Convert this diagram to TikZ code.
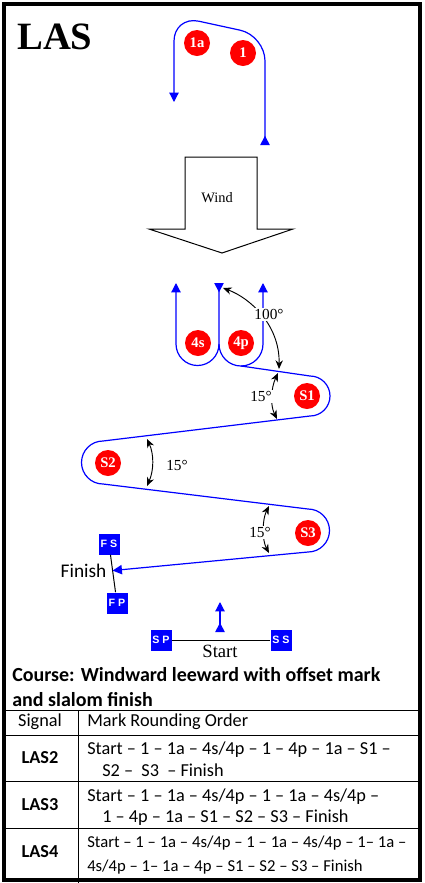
\documentclass[tikz,border=0pt]{standalone}
\usepackage{fontspec}
\setmainfont{Liberation Serif}
\newfontfamily\calibri{Carlito}
\newfontfamily\arialfont{Liberation Sans}
\usetikzlibrary{positioning,arrows.meta,calc}

\begin{document}
\begin{tikzpicture}[
x=0.75pt, y=-0.75pt,
course/.style={blue, line width=0.9pt},
endtip/.style={-{Triangle[length=7pt,width=7pt]}},
bothtip/.style={{Triangle[length=7pt,width=7pt,reversed]}-{Triangle[length=7pt,width=7pt]}},
buoy/.style={circle, fill=red, text=white, minimum size=19.5pt, inner sep=0pt, font=\fontsize{11}{11}\selectfont\bfseries},
flag/.style={fill=blue, text=white, minimum size=15.75pt, inner sep=0pt, font=\arialfont\fontsize{8}{8}\selectfont\bfseries},
anglearrow/.style={{Stealth[length=6.5pt,width=5.5pt]}-{Stealth[length=6.5pt,width=5.5pt]}, line width=0.7pt, black},
deg/.style={fill=white, inner sep=1pt, font=\fontsize{11.5}{11.5}\selectfont},
cell/.style={font=\calibri\fontsize{13.7}{16}\selectfont, inner sep=0pt},
cellsmall/.style={font=\calibri\fontsize{12.5}{15}\selectfont, inner sep=0pt}
]
\useasboundingbox (0,0) rectangle (425,883);
\fill[white] (0,0) rectangle (425,883);

% title
\node[anchor=base west, inner sep=0pt, font=\bfseries\fontsize{29}{29}\selectfont] (title) at (17,49) {LAS};

% wind
\draw[line width=0.75pt, fill=white] (185,157) -- (257,157) -- (257,229) -- (293,229) -- (222,253) -- (149,229) -- (185,229) -- cycle;
\node[font=\fontsize{10.8}{11}\selectfont] (wind) at (217,198) {Wind};

% course
\draw[course, bothtip, rounded corners=19pt] (265,145) -- (265,35.6) -- (174,15.8) -- (174,102);
\coordinate (gate) at (219,344);
\draw[course, bothtip] (219,283) -- (gate) arc[start angle=180, end angle=0, radius=22] -- (263,283);
\draw[course, endtip] (gate) arc[start angle=0, end angle=180, radius=21.5] -- (176,283);

% finish and start lines
\node[flag] (FS) at (109,544) {F S};
\node[flag] (FP) at (117,603) {F P};
\draw[line width=0.75pt] (FS) -- (FP);
\coordinate (fin) at ($(FS)!0.45!(FP)$);
\node[left=4.5pt of fin, inner sep=0pt, font=\calibri\fontsize{14.5}{14}\selectfont] (finish) {Finish};

\draw[course, endtip] (241,366) -- (310,376) arc[start angle=-90, end angle=90, radius=20]
  -- (103,441) arc[start angle=270, end angle=90, radius=21.5]
  -- (308,509) arc[start angle=-90, end angle=90, radius=21.5] -- (fin);

\node[flag] (SP) at (161,640) {S P};
\node[flag] (SS) at (281,640) {S S};
\draw[line width=0.75pt] (SP) -- (SS);
\node[anchor=base, inner sep=0pt, font=\fontsize{14}{14}\selectfont] (start) at (220,657) {Start};
\draw[course, bothtip] (220,632) -- (220,602);

% marks
\node[buoy] (m1a) at (197,43) {1a};
\node[buoy] (m1) at (243,53) {1};
\node[buoy] (m4s) at (198,343) {4s};
\node[buoy] (m4p) at (241,343) {4p};
\node[buoy] (mS1) at (307,396) {S1};
\node[buoy] (mS2) at (108,463) {S2};
\node[buoy] (mS3) at (308,533) {S3};

% angles
\draw[anglearrow] (223,288) .. controls (250,298) and (280,325) .. (279,369);
\node[deg] (a100) at (269,314) {100°};
\draw[anglearrow] (278,373) .. controls (271,388) and (270,405) .. (277,419);
\node[deg] (aS1) at (261,396) {15°};
\draw[anglearrow] (147,439) .. controls (154,454) and (154,470) .. (147,486);
\node[deg] (aS2) at (177,465) {15°};
\draw[anglearrow] (269,506) .. controls (262,520) and (262,540) .. (269,553);
\node[deg] (aS3) at (260,532) {15°};

% table
\node[anchor=west, inner sep=0pt, font=\calibri\bfseries\fontsize{15}{18}\selectfont] (head1) at (12,675) {Course: Windward leeward with offset mark};
\node[anchor=west, inner sep=0pt, font=\calibri\bfseries\fontsize{15}{18}\selectfont] (head2) at (12,700) {and slalom finish};
\foreach \y in {710,735,781,828}
  \draw[line width=0.6pt] (4,\y) -- (419.5,\y);
\draw[line width=0.6pt] (78,710) -- (78,883);

\node[cell] (sig) at (40,722) {Signal};
\node[cell, anchor=west] (order) at (87,722) {Mark Rounding Order};
\node[cell, font=\calibri\bfseries\fontsize{13.7}{16}\selectfont] (las2) at (40,758) {LAS2};
\node[cell, anchor=west] (las2a) at (87,750) {Start – 1 – 1a – 4s/4p – 1 – 4p – 1a – S1 –};
\node[cell, anchor=west] (las2b) at (102,770) {S2 – ~S3 ~– Finish};
\node[cell, font=\calibri\bfseries\fontsize{13.7}{16}\selectfont] (las3) at (40,805) {LAS3};
\node[cell, anchor=west] (las3a) at (87,797) {Start – 1 – 1a – 4s/4p – 1 – 1a – 4s/4p –};
\node[cell, anchor=west] (las3b) at (102,818) {1 – 4p – 1a – S1 – S2 – S3 – Finish};
\node[cell, font=\calibri\bfseries\fontsize{13.7}{16}\selectfont] (las4) at (40,852) {LAS4};
\node[cellsmall, anchor=west] (las4a) at (87,843) {Start – 1 – 1a – 4s/4p – 1 – 1a – 4s/4p – 1– 1a –};
\node[cellsmall, anchor=west] (las4b) at (87,867) {4s/4p – 1– 1a – 4p – S1 – S2 – S3 – Finish};

% frame
\draw[line width=3pt] (4,4) rectangle (419.5,879.5);
\end{tikzpicture}
\end{document}
